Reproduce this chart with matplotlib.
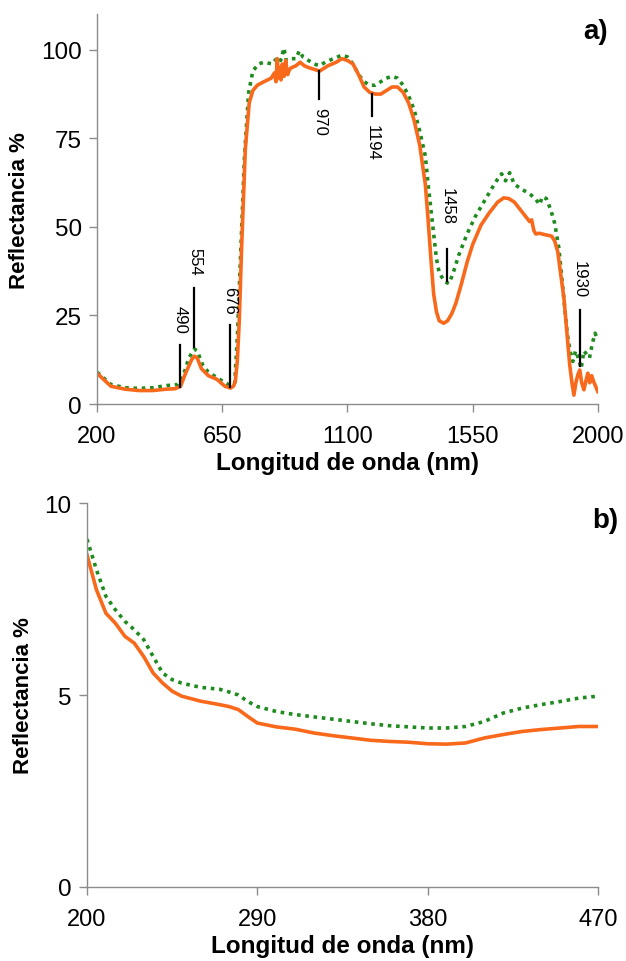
import numpy as np
import matplotlib
matplotlib.use("Agg")
import matplotlib.pyplot as plt

plt.rcParams['font.family'] = ['Liberation Sans', 'DejaVu Sans']

# -------------------------
# Panel a) full spectrum
# -------------------------
wl_a_orange = [200, 250, 300, 350, 400, 450, 480, 500, 520, 540, 550, 560, 575, 600, 630, 660, 680, 690,
               697, 704, 711, 720, 733, 747, 760, 776, 800, 826, 838, 843, 848, 852, 856, 861, 866, 872,
               878, 885, 892, 900, 915, 930, 945, 960, 980, 1000, 1030, 1060, 1080, 1100, 1120, 1140, 1160,
               1180, 1200, 1220, 1240, 1260, 1280, 1300, 1320, 1340, 1360, 1380, 1390, 1400, 1410, 1420,
               1430, 1446, 1460, 1475, 1490, 1510, 1530, 1550, 1580, 1610, 1640, 1662, 1680, 1700, 1720,
               1740, 1755, 1762, 1770, 1777, 1790, 1810, 1834, 1845, 1856, 1866, 1878, 1889, 1899, 1907,
               1914, 1921, 1928, 1935, 1942, 1950, 1957, 1964, 1971, 1978, 1985, 1992, 2000]
r_a_orange = [8.7, 5.0, 4.2, 3.8, 3.8, 4.2, 4.3, 5.0, 9.0, 12.5, 13.5, 13.0, 10.0, 8.0, 7.0, 5.0, 4.5, 5.0,
              6.3, 12.0, 23.0, 45.0, 72.0, 85.0, 88.5, 90.0, 91.0, 92.0, 93.5, 91.0, 97.5, 92.0, 95.0, 91.5,
              96.0, 92.5, 97.0, 93.0, 94.5, 95.0, 95.5, 96.5, 95.5, 95.0, 94.5, 94.0, 95.5, 96.5, 97.5, 97.0,
              96.0, 93.0, 89.5, 88.0, 87.5, 87.5, 88.5, 89.5, 89.5, 88.0, 85.0, 80.0, 73.0, 62.0, 52.0,
              41.0, 31.0, 26.0, 23.5, 22.8, 23.5, 25.5, 28.5, 34.0, 40.0, 45.0, 50.5, 54.0, 57.0, 58.2, 58.0,
              57.0, 55.0, 53.0, 51.5, 52.0, 49.0, 48.0, 48.2, 47.8, 47.4, 46.0, 43.0, 37.0, 30.0, 20.0, 11.0,
              6.0, 2.5, 6.0, 8.2, 9.6, 6.0, 4.0, 6.5, 8.7, 6.0, 8.0, 6.3, 5.0, 3.5]

wl_a_green = [200, 250, 300, 350, 400, 450, 490, 510, 530, 550, 560, 580, 600, 630, 660, 680, 695, 705,
              715, 730, 745, 760, 780, 800, 830, 850, 860, 872, 880, 900, 915, 927, 940, 960, 980, 1000,
              1020, 1050, 1080, 1100, 1120, 1140, 1160, 1180, 1200, 1220, 1240, 1260, 1280, 1300, 1320,
              1340, 1360, 1380, 1390, 1400, 1410, 1420, 1430, 1450, 1465, 1480, 1500, 1530, 1560, 1590,
              1620, 1640, 1654, 1668, 1683, 1700, 1720, 1740, 1760, 1775, 1791, 1800, 1815, 1830, 1845,
              1860, 1870, 1880, 1890, 1900, 1910, 1920, 1930, 1940, 1950, 1960, 1970, 1980, 1990, 2000]
r_a_green = [9.0, 5.5, 4.6, 4.4, 4.6, 5.2, 5.5, 8.0, 13.0, 15.5, 15.0, 11.0, 9.0, 7.5, 6.0, 5.2, 6.0, 20.0,
             40.0, 70.0, 88.0, 94.0, 96.0, 96.5, 96.0, 98.0, 97.0, 100.5, 97.0, 97.5, 97.5, 99.7, 98.0, 97.0,
             96.0, 95.5, 96.5, 97.5, 98.5, 98.0, 96.0, 93.0, 91.0, 90.0, 90.0, 91.0, 92.0, 92.5, 92.0, 90.0,
             87.0, 83.0, 77.0, 70.0, 62.0, 55.0, 48.0, 41.0, 37.0, 34.5, 34.0, 37.0, 42.0, 48.0, 53.0, 57.0,
             61.0, 63.5, 65.0, 63.0, 65.3, 62.0, 61.0, 60.0, 59.0, 58.0, 56.3, 58.5, 58.0, 55.0, 51.0, 44.0,
             36.0, 28.0, 20.0, 15.0, 12.0, 15.0, 13.0, 10.0, 15.0, 14.0, 13.0, 17.0, 20.0, 18.0]

# band annotations: label, line x, line y from/to, text centre y
band_labels = ["490", "554", "676", "970", "1194", "1458", "1930"]
band_x = [498, 550, 677, 999, 1189, 1457, 1935]
band_y0 = [4.9, 16.2, 4.9, 93.9, 87.5, 34.6, 10.6]
band_y1 = [16.7, 32.7, 22.2, 86.0, 81.3, 43.9, 26.6]
band_text_y = [24.0, 40.3, 29.5, 79.9, 74.0, 56.0, 35.3]

# -------------------------
# Panel b) UV-blue zoom
# -------------------------
wl_b = [200, 205, 210, 215, 220, 225, 230, 235, 240, 245, 250, 260, 270, 275, 280, 285, 290, 300, 310,
        320, 330, 340, 350, 360, 370, 380, 390, 400, 410, 420, 430, 440, 450, 460, 470]
r_b_orange = [8.65, 7.74, 7.13, 6.87, 6.53, 6.35, 6.0, 5.57, 5.31, 5.1, 4.97, 4.84, 4.75, 4.7, 4.62, 4.44,
              4.27, 4.17, 4.11, 4.01, 3.94, 3.88, 3.82, 3.79, 3.77, 3.73, 3.72, 3.75, 3.88, 3.97, 4.05,
              4.1, 4.14, 4.18, 4.18]
r_b_green = [9.06, 8.26, 7.57, 7.22, 6.92, 6.7, 6.44, 6.0, 5.57, 5.4, 5.31, 5.2, 5.15, 5.08, 5.0, 4.83,
             4.7, 4.57, 4.49, 4.43, 4.37, 4.31, 4.25, 4.2, 4.17, 4.14, 4.14, 4.18, 4.31, 4.53, 4.66,
             4.75, 4.83, 4.92, 4.97]

ORANGE = "#F8691C"
GREEN = "#1F8A1F"
GREY = "#8C8C8C"


def style_axes(ax):
    for s in ["top", "right"]:
        ax.spines[s].set_visible(False)
    for s in ["left", "bottom"]:
        ax.spines[s].set_color(GREY)
        ax.spines[s].set_linewidth(1.0)
    ax.tick_params(direction="out", length=6, width=1.0, color=GREY)
    ax.tick_params(axis="x", labelsize=17, pad=9)
    ax.tick_params(axis="y", labelsize=17.5, pad=5)
    ax.set_xlabel("Longitud de onda (nm)", fontsize=17.5, fontweight="bold", labelpad=3)
    ax.set_ylabel("Reflectancia %", fontsize=16, fontweight="bold", labelpad=8)


fig = plt.figure(figsize=(6.26, 9.62), dpi=100)

ax1 = fig.add_axes([0.155, 0.579, 0.80, 0.405])
ax1.plot(wl_a_green, r_a_green, color=GREEN, lw=2.6, linestyle=(0, (1, 1.3)))
ax1.plot(wl_a_orange, r_a_orange, color=ORANGE, lw=2.6)
for lab, x, y0, y1, ty in zip(band_labels, band_x, band_y0, band_y1, band_text_y):
    ax1.plot([x, x], [y0, y1], color="black", lw=1.6)
    ax1.text(x, ty, lab, rotation=-90, ha="center", va="center", fontsize=12)
ax1.set_xlim(200, 2000)
ax1.set_ylim(0, 110)
ax1.set_xticks([200, 650, 1100, 1550, 2000])
ax1.set_yticks([0, 25, 50, 75, 100])
style_axes(ax1)
ax1.text(1.02, 0.99, "a)", transform=ax1.transAxes, ha="right", va="top", fontsize=20, fontweight="bold")

ax2 = fig.add_axes([0.139, 0.077, 0.816, 0.399])
ax2.plot(wl_b, r_b_green, color=GREEN, lw=2.6, linestyle=(0, (1, 1.3)))
ax2.plot(wl_b, r_b_orange, color=ORANGE, lw=2.6)
ax2.set_xlim(200, 470)
ax2.set_ylim(0, 10)
ax2.set_xticks([200, 290, 380, 470])
ax2.set_yticks([0, 5, 10])
style_axes(ax2)
ax2.text(1.04, 0.99, "b)", transform=ax2.transAxes, ha="right", va="top", fontsize=20, fontweight="bold")

fig.savefig("out.png", dpi=100)
